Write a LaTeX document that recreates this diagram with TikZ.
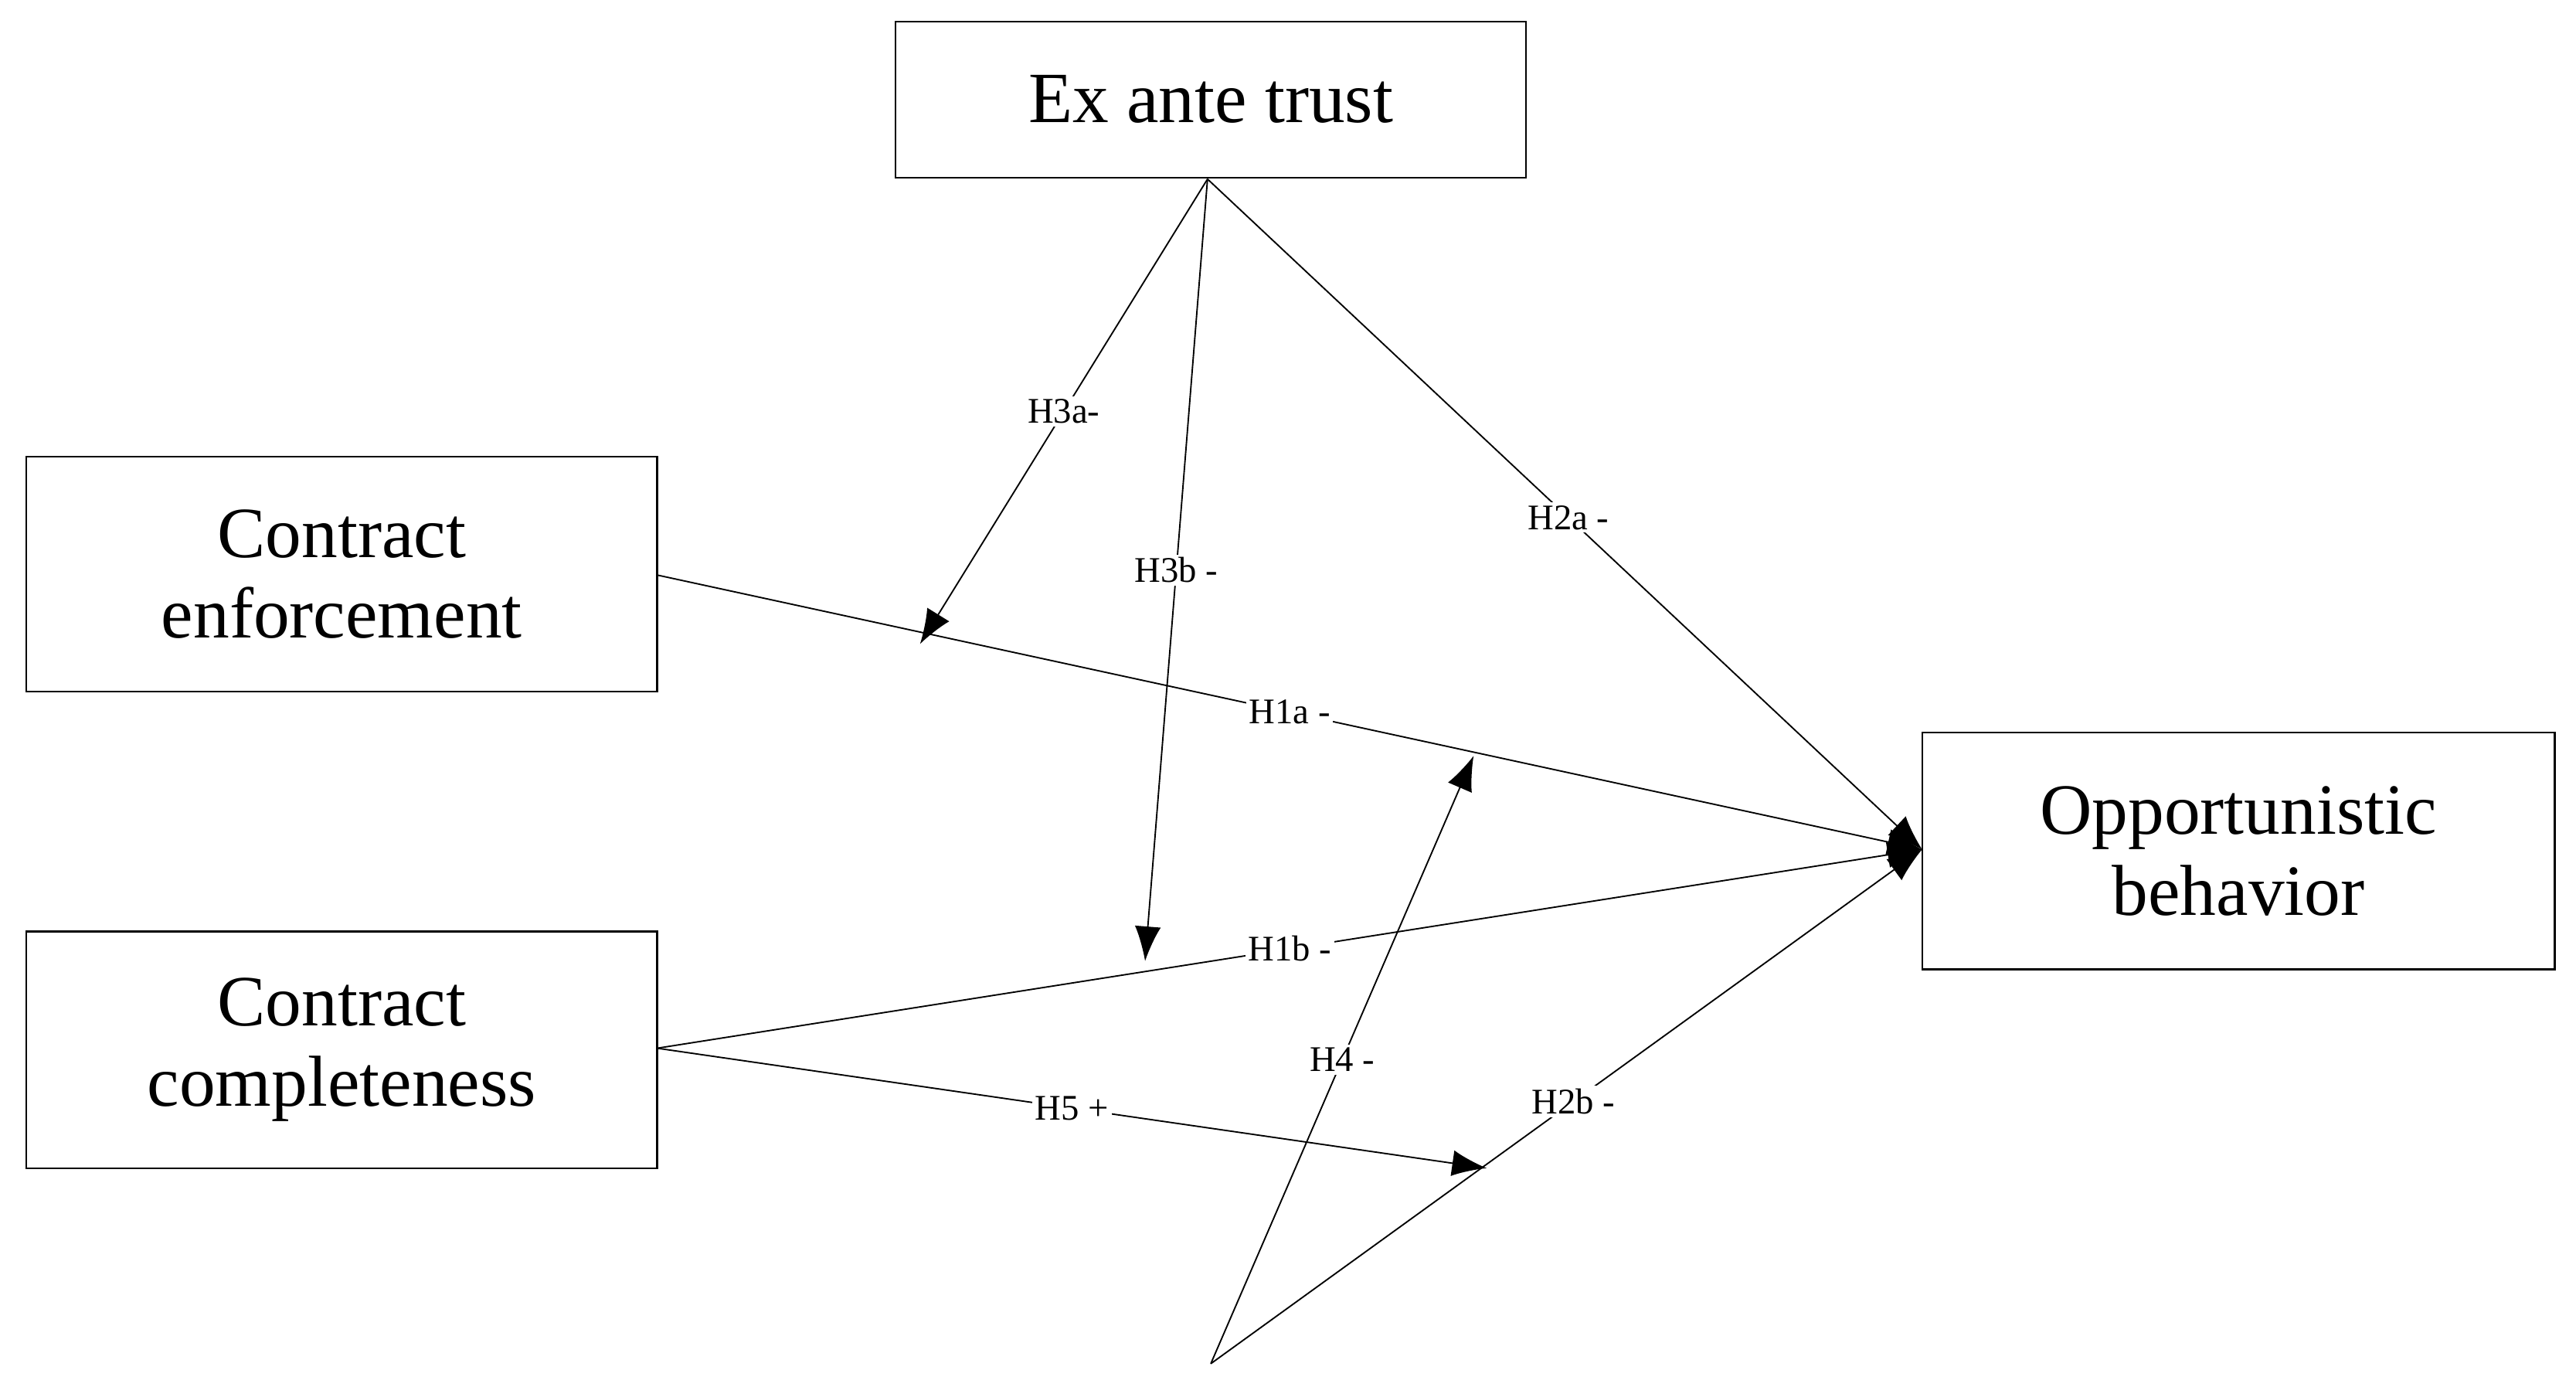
\documentclass[tikz,border=0pt]{standalone}
\usepackage{fontspec}
\setmainfont{Liberation Serif}
\usetikzlibrary{arrows.meta}
\begin{document}
\begin{tikzpicture}[x=0.02cm,y=-0.02cm,
  box/.style={draw,line width=0.6pt,minimum width=384*0.02cm,align=center,font=\fontsize{25}{28}\selectfont},
  lab/.style={fill=white,inner sep=1pt,font=\fontsize{12.5}{14}\selectfont},
  arr/.style={line width=0.5pt,-{Latex[length=12pt,width=9pt]}},
  ln/.style={line width=0.5pt}]
\useasboundingbox (0,0) rectangle (1568,844);
\node[box,minimum height=95*0.02cm] (ex) at (737,60.5) {Ex ante trust};
\node[box,minimum height=143*0.02cm] (ce) at (208,349.5) {Contract\\enforcement};
\node[box,minimum height=144*0.02cm] (cc) at (208,639) {Contract\\completeness};
\node[box,minimum height=144*0.02cm,minimum width=385*0.02cm] (ob) at (1362.5,518) {Opportunistic\\behavior};
\coordinate (t) at (735,109);
\coordinate (m1) at (560,392);
\coordinate (m2) at (697,585);
\coordinate (m3) at (897,460);
\coordinate (m4) at (905,711);
\coordinate (b) at (737,830);
\coordinate (ce1) at (400,350);
\coordinate (cc1) at (400,638);
\coordinate (ob1) at (1170,517);
\draw[arr] (t) -- node[lab,pos=0.5]{H3a-} (m1);
\draw[arr] (t) -- node[lab,pos=0.5]{H3b -} (m2);
\draw[arr] (t) -- node[lab,pos=0.505]{H2a -} (ob1);
\draw[arr] (ce1) -- node[lab,pos=0.5]{H1a -} (ob1);
\draw[arr] (cc1) -- node[lab,pos=0.5]{H1b -} (ob1);
\draw[arr] (cc1) -- node[lab,pos=0.5]{H5 +} (m4);
\draw[arr] (b) -- node[lab,pos=0.5]{H4 -} (m3);
\draw[arr] (b) -- node[lab,pos=0.51]{H2b -} (ob1);
\end{tikzpicture}
\end{document}
